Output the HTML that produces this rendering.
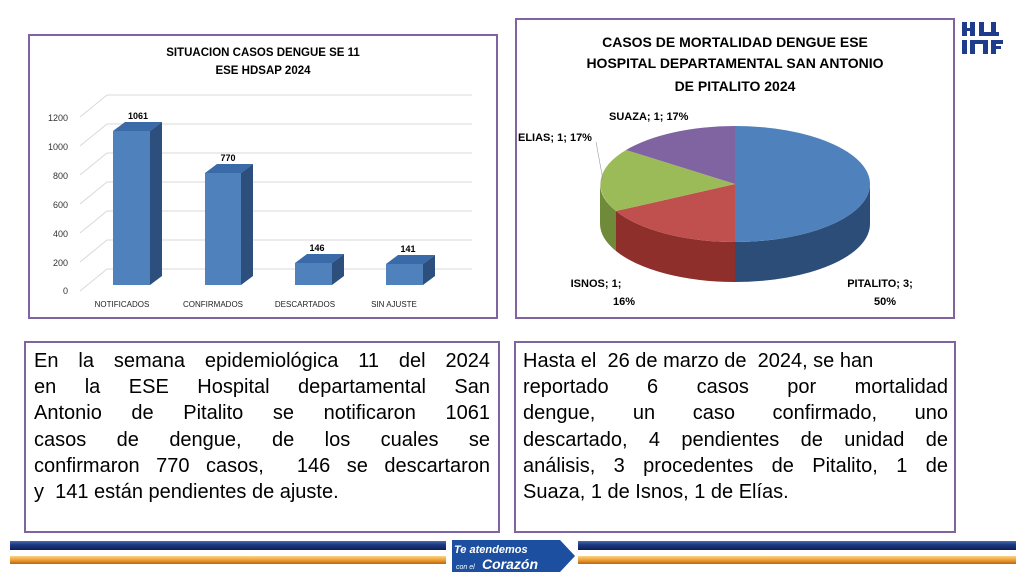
<!DOCTYPE html>
<html><head><meta charset="utf-8"><style>
body{margin:0;width:1024px;height:576px;background:#fff;position:relative;overflow:hidden;font-family:"Liberation Sans",sans-serif}
.box{position:absolute;border:2px solid #8064a2;box-sizing:border-box}
.txt{position:absolute;font-size:20px;color:#000;line-height:26.2px}
.txt div{text-align:justify;text-align-last:justify;white-space:nowrap;height:26.2px}
.txt div.l{text-align-last:left}
</style></head><body>
<div class="box" style="left:28px;top:34px;width:470px;height:285px"></div>
<div class="box" style="left:515px;top:18px;width:440px;height:301px"></div>
<div class="box" style="left:24px;top:341px;width:476px;height:192px"></div>
<div class="box" style="left:514px;top:341px;width:442px;height:192px"></div>

<svg width="1024" height="576" style="position:absolute;left:0;top:0">
<g font-family="Liberation Sans, sans-serif">
<text x="263" y="56" font-size="11.5" font-weight="bold" text-anchor="middle">SITUACION CASOS DENGUE SE 11</text>
<text x="263" y="74" font-size="11.5" font-weight="bold" text-anchor="middle">ESE HDSAP 2024</text>
<g stroke="#d9d9d9" stroke-width="1" fill="none">
<path d="M80,291 L107,269 H472"/><path d="M80,262 L107,240 H472"/><path d="M80,233 L107,211 H472"/>
<path d="M80,204 L107,182 H472"/><path d="M80,175 L107,153 H472"/><path d="M80,146 L107,124 H472"/><path d="M80,117 L107,95 H472"/>
</g>
<g font-size="9" text-anchor="end" fill="#333">
<text x="68" y="294">0</text><text x="68" y="266">200</text><text x="68" y="237">400</text><text x="68" y="208">600</text><text x="68" y="179">800</text><text x="68" y="150">1000</text><text x="68" y="121">1200</text>
</g>
<g>
<polygon points="113,131 150,131 162,122 125,122" fill="#3a6aa8"/><polygon points="150,131 162,122 162,276 150,285" fill="#2d4f7e"/><rect x="113" y="131" width="37" height="154" fill="#4f81bd"/>
<polygon points="205,173 241,173 253,164 217,164" fill="#3a6aa8"/><polygon points="241,173 253,164 253,276 241,285" fill="#2d4f7e"/><rect x="205" y="173" width="36" height="112" fill="#4f81bd"/>
<polygon points="295,263 332,263 344,254 307,254" fill="#3a6aa8"/><polygon points="332,263 344,254 344,276 332,285" fill="#2d4f7e"/><rect x="295" y="263" width="37" height="22" fill="#4f81bd"/>
<polygon points="386,264 423,264 435,255 398,255" fill="#3a6aa8"/><polygon points="423,264 435,255 435,276 423,285" fill="#2d4f7e"/><rect x="386" y="264" width="37" height="21" fill="#4f81bd"/>
</g>
<g font-size="9" font-weight="bold" text-anchor="middle">
<text x="138" y="119">1061</text><text x="228" y="161">770</text><text x="317" y="251">146</text><text x="408" y="252">141</text>
</g>
<g font-size="8" text-anchor="middle" fill="#222">
<text x="122" y="307">NOTIFICADOS</text><text x="213" y="307">CONFIRMADOS</text><text x="305" y="307">DESCARTADOS</text><text x="394" y="307">SIN AJUSTE</text>
</g>

<text x="735" y="47" font-size="14" font-weight="bold" text-anchor="middle">CASOS DE MORTALIDAD DENGUE ESE</text>
<text x="735" y="68" font-size="14" font-weight="bold" text-anchor="middle">HOSPITAL DEPARTAMENTAL SAN ANTONIO</text>
<text x="735" y="91" font-size="14" font-weight="bold" text-anchor="middle">DE PITALITO 2024</text>
<!-- pie sides -->
<path d="M870,184 A135,58 0 0 1 735,242 L735,282 A135,58 0 0 0 870,224 Z" fill="#2c4d78"/>
<path d="M735,242 A135,58 0 0 1 616,211 L616,251 A135,58 0 0 0 735,282 Z" fill="#8e2f2c"/>
<path d="M616,211 A135,58 0 0 1 600,184 L600,224 A135,58 0 0 0 616,251 Z" fill="#6f8a38"/>
<!-- top -->
<path d="M735,184 L735,126 A135,58 0 0 1 735,242 Z" fill="#4f81bd"/>
<path d="M735,184 L735,242 A135,58 0 0 1 616,211 Z" fill="#c0504d"/>
<path d="M735,184 L616,211 A135,58 0 0 1 626,150 Z" fill="#9bbb59"/>
<path d="M735,184 L626,150 A135,58 0 0 1 735,126 Z" fill="#8064a2"/>
<line x1="596" y1="142" x2="603" y2="180" stroke="#999" stroke-width="0.6"/>
<g font-size="11" font-weight="bold">
<text x="609" y="120">SUAZA; 1; 17%</text><text x="518" y="141">ELIAS; 1; 17%</text>
<text x="596" y="287" text-anchor="middle">ISNOS; 1;</text><text x="624" y="305" text-anchor="middle">16%</text>
<text x="880" y="287" text-anchor="middle">PITALITO; 3;</text><text x="885" y="305" text-anchor="middle">50%</text>
</g>
</g>
<!-- logo top right -->
<g fill="#1f3c8c">
<rect x="962" y="22" width="5" height="14"/><rect x="970" y="22" width="5" height="14"/><rect x="962" y="28" width="13" height="3"/>
<rect x="979" y="22" width="5" height="14"/><rect x="979" y="32" width="20" height="4"/><rect x="991" y="22" width="5" height="10"/>
<rect x="962" y="40" width="5" height="14"/><rect x="970" y="40" width="18" height="4"/><rect x="970" y="40" width="5" height="14"/><rect x="983" y="40" width="5" height="14"/>
<rect x="991" y="40" width="12" height="4"/><rect x="991" y="40" width="5" height="14"/><rect x="991" y="46" width="10" height="3"/>
</g>
<!-- bottom bars -->
<defs>
<linearGradient id="bl" x1="0" y1="0" x2="0" y2="1"><stop offset="0" stop-color="#4a6bb0"/><stop offset="0.4" stop-color="#1d3a85"/><stop offset="1" stop-color="#0e1f55"/></linearGradient>
<linearGradient id="or" x1="0" y1="0" x2="0" y2="1"><stop offset="0" stop-color="#fbd38a"/><stop offset="0.5" stop-color="#f0a030"/><stop offset="1" stop-color="#b8651a"/></linearGradient>
</defs>
<rect x="10" y="541" width="436" height="9" fill="url(#bl)"/>
<rect x="10" y="556" width="436" height="8" fill="url(#or)"/>
<rect x="578" y="541" width="438" height="9" fill="url(#bl)"/>
<rect x="578" y="556" width="438" height="8" fill="url(#or)"/>
<path d="M452,540 L560,540 L575,556 L560,572 L452,572 Z" fill="#1d4fa0"/>
<text x="454" y="553" font-size="11" font-weight="bold" font-style="italic" fill="#fff" font-family="Liberation Sans, sans-serif">Te atendemos</text>
<text x="482" y="569" font-size="14" font-weight="bold" font-style="italic" fill="#fff" font-family="Liberation Sans, sans-serif">Corazón</text>
<text x="456" y="569" font-size="7" font-style="italic" fill="#fff" font-family="Liberation Sans, sans-serif">con el</text>
</svg>

<div class="txt" style="left:34px;top:348px;width:456px">
<div>En la semana epidemiológica 11 del 2024</div>
<div>en la ESE Hospital departamental San</div>
<div>Antonio de Pitalito se notificaron 1061</div>
<div>casos de dengue, de los cuales se</div>
<div>confirmaron 770 casos,&nbsp; 146 se descartaron</div>
<div class="l">y&nbsp; 141 están pendientes de ajuste.</div>
</div>
<div class="txt" style="left:523px;top:348px;width:425px">
<div class="l">Hasta el&nbsp; 26 de marzo de&nbsp; 2024, se han</div>
<div>reportado 6 casos por mortalidad</div>
<div>dengue, un caso confirmado, uno</div>
<div>descartado, 4 pendientes de unidad de</div>
<div>análisis, 3 procedentes de Pitalito, 1 de</div>
<div class="l">Suaza, 1 de Isnos, 1 de Elías.</div>
</div>
</body></html>
